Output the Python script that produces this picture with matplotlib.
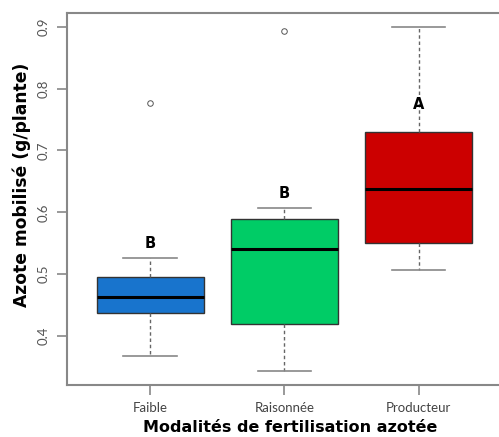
import matplotlib
matplotlib.use("Agg")
import matplotlib.pyplot as plt

# Statistiques
modalites = ["Faible", "Raisonnée", "Producteur"]
whisk_bas = [0.368, 0.3435, 0.506]
q1 = [0.4367, 0.419, 0.550]
mediane = [0.4635, 0.540, 0.637]
q3 = [0.4948, 0.589, 0.730]
whisk_haut = [0.5258, 0.6065, 0.899]
aberrants = [[0.777], [0.893], []]
groupes = ["B", "B", "A"]
pos_lettres = [0.549, 0.630, 0.774]
couleurs = ["#1874CD", "#00CC66", "#CC0000"]

stats = []
for i in range(len(modalites)):
    stats.append(dict(med=mediane[i], q1=q1[i], q3=q3[i], whislo=whisk_bas[i],
                      whishi=whisk_haut[i], fliers=aberrants[i], label=modalites[i]))

fig = plt.figure(figsize=(4.99, 4.37), dpi=100)
ax = fig.add_axes([0.1336, 0.119, 0.872, 0.851])

bp = ax.bxp(stats, positions=[1, 2, 3], widths=0.8, patch_artist=True,
            boxprops=dict(edgecolor="#333333", linewidth=1),
            medianprops=dict(color="black", linewidth=2.2),
            whiskerprops=dict(color="#666666", linestyle=(0, (2.5, 2)), linewidth=1),
            capprops=dict(color="#888888", linewidth=1.2),
            flierprops=dict(marker="o", markersize=4, markerfacecolor="none",
                            markeredgecolor="#555555", markeredgewidth=0.7))
for b, c in zip(bp["boxes"], couleurs):
    b.set_facecolor(c)
for cap in bp["caps"]:
    x = cap.get_xdata()
    m = (x[0] + x[1]) / 2
    cap.set_xdata([m - 0.2, m + 0.2])

for i, g in enumerate(groupes):
    ax.text(i + 1, pos_lettres[i], g, ha="center", va="center",
            fontsize=10.5, fontweight="bold", family="DejaVu Sans")

ax.set_xlim(0.377, 3.62)
ax.set_ylim(0.3208, 0.922)
ax.set_yticks([0.4, 0.5, 0.6, 0.7, 0.8, 0.9])
ax.set_yticklabels(["0.4", "0.5", "0.6", "0.7", "0.8", "0.9"], rotation=90,
                   va="center", family="Lato", fontsize=9.5, color="#555555")
ax.set_xticks([1, 2, 3])
ax.set_xticklabels(modalites, family="Lato", fontsize=9.5, color="#444444")
ax.tick_params(axis="both", length=7, width=1.2, color="#888888", pad=5)

for s in ax.spines.values():
    s.set_color("#888888")
    s.set_linewidth(1.5)

ax.set_xlabel("Modalités de fertilisation azotée", fontsize=11.5,
              fontweight="bold", family="DejaVu Sans")
ax.xaxis.set_label_coords(0.514, -0.114)
ax.xaxis.label.set_va("center")
ax.set_ylabel("Azote mobilisé (g/plante)", fontsize=12.3,
              fontweight="bold", family="DejaVu Sans")
ax.yaxis.set_label_coords(-0.103, 0.538)
ax.yaxis.label.set_va("center")

fig.savefig("out.png", dpi=100)
